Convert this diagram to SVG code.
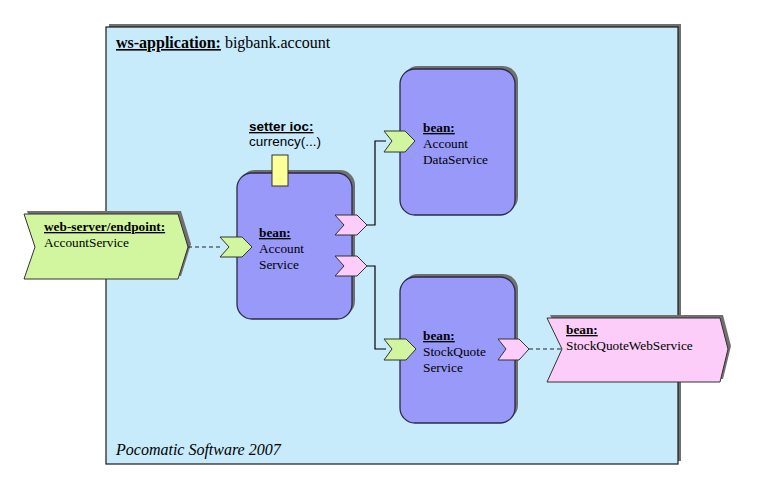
<svg xmlns="http://www.w3.org/2000/svg" width="758" height="496" viewBox="0 0 758 496">
<defs>
<style>
.shadow{fill:#707070;stroke:none}
.container{fill:#c8ebfc;stroke:#1a1a1a;stroke-width:1.2}
.bean{fill:#9999fa;stroke:#2a2a4a;stroke-width:1.3}
.green{fill:#d2f5a0;stroke:#333;stroke-width:1}
.pink{fill:#fccdf8;stroke:#333;stroke-width:1}
.yellow{fill:#ffff99;stroke:#333;stroke-width:1}
.b{font-weight:bold;text-decoration:underline}
.conn{fill:none;stroke:#000;stroke-width:1.2}
.dash{fill:none;stroke:#223;stroke-width:1.2;stroke-dasharray:4,3}
</style>
</defs>
<rect width="758" height="496" fill="#fff"/>

<g id="ws-application">
<rect class="shadow" x="109" y="24" width="572" height="437"/>
<rect class="container" x="106" y="27" width="572" height="437"/>
<text font-family="'Liberation Serif','DejaVu Serif',serif" font-size="16" x="116" y="48"><tspan class="b">ws-application:</tspan> bigbank.account</text>
<text font-family="'Liberation Serif','DejaVu Serif',serif" x="116" y="455" font-size="16" font-style="italic">Pocomatic Software 2007</text>
</g>

<g id="web-server-endpoint">
<polygon class="shadow" points="27,211 181,211 191,244 181,276 27,276 38,244"/>
<polygon class="green" points="24,214 178,214 188,247 178,279 24,279 35,247"/>
<text font-family="'Liberation Serif','DejaVu Serif',serif" font-size="13.3" x="44" y="231"><tspan class="b">web-server/endpoint:</tspan></text>
<text font-family="'Liberation Serif','DejaVu Serif',serif" font-size="13.3" x="44" y="247">AccountService</text>
</g>

<g id="setter-ioc">
<text font-family="'Liberation Sans',Arial,sans-serif" class="b" x="249" y="131" font-size="13.5">setter ioc:</text>
<text font-family="'Liberation Sans',Arial,sans-serif" x="249" y="146" font-size="13.5">currency(...)</text>
</g>

<g id="account-service">
<rect class="shadow" x="240" y="170" width="115" height="146" rx="15"/>
<rect class="bean" x="237" y="173" width="115" height="146" rx="15"/>
<rect class="yellow" x="272" y="155" width="16" height="31"/>
<text font-family="'Liberation Serif','DejaVu Serif',serif" font-size="13.3" x="259" y="237"><tspan class="b">bean:</tspan></text>
<text font-family="'Liberation Serif','DejaVu Serif',serif" font-size="13.3" x="259" y="253">Account</text>
<text font-family="'Liberation Serif','DejaVu Serif',serif" font-size="13.3" x="259" y="269">Service</text>
<polygon class="green" points="220,237 242,237 252,247 242,257 220,257 229,247"/>
<polygon class="pink" points="335,215 357,215 367,225 357,235 335,235 344,225"/>
<polygon class="pink" points="335,256 357,256 367,266 357,276 335,276 344,266"/>
</g>

<g id="account-data-service">
<rect class="shadow" x="403" y="66" width="115" height="146" rx="15"/>
<rect class="bean" x="400" y="69" width="115" height="146" rx="15"/>
<text font-family="'Liberation Serif','DejaVu Serif',serif" font-size="13.3" x="423" y="132"><tspan class="b">bean:</tspan></text>
<text font-family="'Liberation Serif','DejaVu Serif',serif" font-size="13.3" x="423" y="148">Account</text>
<text font-family="'Liberation Serif','DejaVu Serif',serif" font-size="13.3" x="423" y="164">DataService</text>
<polygon class="green" points="384,131 405,131 415,141 405,152 384,152 392,141"/>
</g>

<g id="stock-quote-service">
<rect class="shadow" x="403" y="274" width="115" height="146" rx="15"/>
<rect class="bean" x="400" y="277" width="115" height="146" rx="15"/>
<text font-family="'Liberation Serif','DejaVu Serif',serif" font-size="13.3" x="423" y="340"><tspan class="b">bean:</tspan></text>
<text font-family="'Liberation Serif','DejaVu Serif',serif" font-size="13.3" x="423" y="356">StockQuote</text>
<text font-family="'Liberation Serif','DejaVu Serif',serif" font-size="13.3" x="423" y="372">Service</text>
<polygon class="green" points="384,339 406,339 416,349 406,360 384,360 392,349"/>
<polygon class="pink" points="498,339 519,339 529,349 519,360 498,360 506,349"/>
</g>

<g id="stock-quote-web-service">
<polygon class="shadow" points="550,315 723,315 731,346 723,379 550,379 565,346"/>
<polygon class="pink" points="547,318 720,318 728,349 720,382 547,382 562,349"/>
<text font-family="'Liberation Serif','DejaVu Serif',serif" font-size="13.3" x="566" y="334"><tspan class="b">bean:</tspan></text>
<text font-family="'Liberation Serif','DejaVu Serif',serif" font-size="13.3" x="566" y="350">StockQuoteWebService</text>
</g>

<g id="connectors">
<line class="dash" x1="188" y1="247" x2="222" y2="247"/>
<polyline class="conn" points="367,225 375,225 375,141 386,141"/>
<polyline class="conn" points="367,266 375,266 375,349 386,349"/>
<line class="dash" x1="529" y1="349" x2="562" y2="349"/>
</g>
</svg>
